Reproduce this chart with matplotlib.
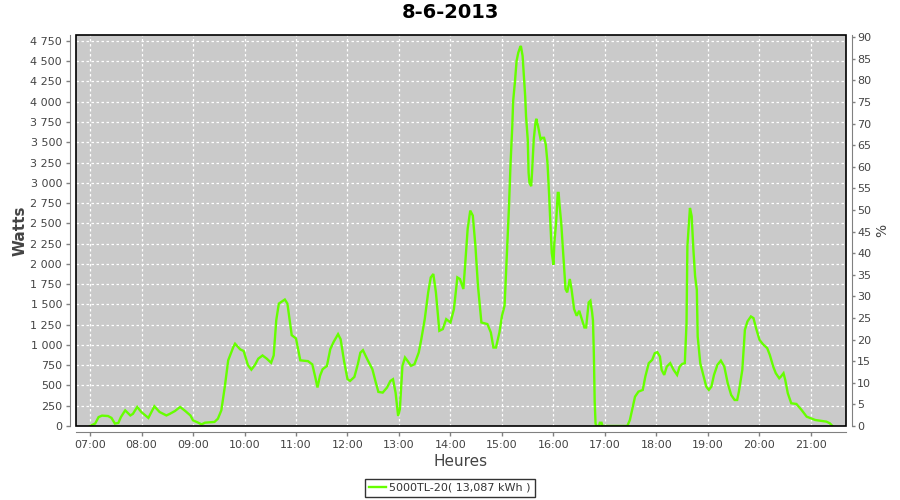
import matplotlib
matplotlib.use("Agg")
import matplotlib.pyplot as plt
from matplotlib.patches import Rectangle
from matplotlib.ticker import FixedLocator, FuncFormatter

plt.rcParams['font.family'] = ['DejaVu Sans']

title = "8-6-2013"
series_name = "5000TL-20( 13,087 kWh )"

times = [
    "07:00", "07:06", "07:10", "07:14", "07:21", "07:25", "07:29", "07:33", "07:36", "07:41",
    "07:47", "07:50", "07:55", "08:00", "08:08", "08:15", "08:21", "08:29", "08:33", "08:39",
    "08:45", "08:51", "08:57", "09:00", "09:06", "09:10", "09:14", "09:25", "09:29", "09:33",
    "09:37", "09:41", "09:47", "09:49", "09:55", "09:59", "10:04", "10:08", "10:12", "10:16",
    "10:21", "10:26", "10:31", "10:34", "10:37", "10:40", "10:47", "10:50", "10:55", "11:00",
    "11:05", "11:14", "11:19", "11:23", "11:25", "11:28", "11:31", "11:36", "11:40", "11:44",
    "11:49", "11:52", "11:56", "12:00", "12:03", "12:08", "12:12", "12:15", "12:18", "12:23",
    "12:29", "12:33", "12:36", "12:41", "12:46", "12:50", "12:53", "12:56", "12:59", "13:01",
    "13:04", "13:07", "13:10", "13:14", "13:18", "13:23", "13:26", "13:30", "13:34", "13:37",
    "13:40", "13:43", "13:47", "13:51", "13:55", "14:00", "14:04", "14:08", "14:11", "14:15",
    "14:17", "14:20", "14:23", "14:26", "14:29", "14:32", "14:36", "14:39", "14:43", "14:47",
    "14:50", "14:53", "14:57", "15:00", "15:03", "15:05", "15:07", "15:08", "15:10", "15:12",
    "15:13", "15:15", "15:17", "15:19", "15:21", "15:22", "15:24", "15:25", "15:27", "15:28",
    "15:30", "15:31", "15:32", "15:34", "15:35", "15:37", "15:39", "15:40", "15:42", "15:45",
    "15:47", "15:49", "15:51", "15:53", "15:55", "15:56", "15:58", "16:00", "16:01", "16:03",
    "16:05", "16:06", "16:07", "16:09", "16:10", "16:12", "16:14", "16:16", "16:19", "16:21",
    "16:24", "16:27", "16:30", "16:33", "16:36", "16:38", "16:41", "16:43", "16:45", "16:46",
    "16:47", "16:48", "16:49", "16:50", "16:53", "16:54", "16:56", "16:57", "17:26", "17:29",
    "17:32", "17:35", "17:39", "17:44", "17:47", "17:51", "17:55", "17:58", "18:01", "18:04",
    "18:06", "18:09", "18:12", "18:16", "18:20", "18:24", "18:27", "18:30", "18:33", "18:35",
    "18:36", "18:39", "18:41", "18:43", "18:45", "18:47", "18:48", "18:51", "18:55", "18:58",
    "19:01", "19:04", "19:07", "19:11", "19:15", "19:19", "19:23", "19:27", "19:31", "19:34",
    "19:36", "19:40", "19:43", "19:46", "19:50", "19:53", "19:56", "20:00", "20:04", "20:09",
    "20:12", "20:16", "20:19", "20:23", "20:25", "20:28", "20:30", "20:33", "20:37", "20:43",
    "20:49", "20:55", "21:00", "21:05", "21:10", "21:18", "21:22", "21:25",
]

watts = [
    0, 30, 110, 128, 123, 100, 30, 37, 110, 193,
    130, 150, 235, 170, 100, 243, 173, 130, 150, 185,
    235, 185, 130, 70, 41, 20, 41, 50, 90, 193,
    480, 810, 975, 1015, 945, 925, 750, 695, 750, 830,
    870, 830, 780, 870, 1305, 1510, 1560, 1510, 1120, 1080,
    810, 800, 760, 577, 475, 620, 700, 740, 950, 1040,
    1133, 1070, 800, 577, 556, 605, 760, 905, 935, 824,
    700, 535, 420, 412, 474, 556, 577, 412, 124, 206,
    742, 845, 803, 742, 762, 906, 1071, 1318, 1648, 1833,
    1875, 1648, 1174, 1195, 1318, 1277, 1442, 1833, 1813, 1690,
    1978, 2431, 2657, 2595, 2225, 1730, 1277, 1269, 1257, 1154,
    968, 968, 1154, 1360, 1483, 1950, 2400, 2670, 3246, 3700,
    4008, 4235, 4503, 4606, 4668, 4688, 4565, 4400, 4070, 3823,
    3535, 3123, 3000, 2958, 3123, 3535, 3740, 3790, 3700, 3535,
    3555, 3555, 3473, 3246, 2834, 2587, 2134, 1990, 2257, 2505,
    2875, 2875, 2731, 2505, 2340, 2010, 1690, 1648, 1813, 1690,
    1442, 1360, 1421, 1318, 1215, 1215, 1524, 1545, 1400, 1300,
    900, 300, 30, 0, 0, 40, 40, 0, 0, 74,
    218, 362, 424, 445, 610, 775, 816, 898, 910, 857,
    692, 630, 733, 775, 692, 630, 733, 766, 775, 1269,
    2217, 2690, 2587, 2175, 1846, 1681, 1104, 775, 610, 486,
    445, 486, 630, 754, 807, 733, 527, 383, 321, 321,
    424, 692, 1186, 1290, 1351, 1331, 1207, 1063, 1009, 960,
    878, 733, 651, 589, 610, 651, 569, 404, 280, 272,
    198, 115, 95, 74, 66, 54, 33, 0,
]

hour_ticks = list(range(7, 22))
watt_ticks = list(range(0, 4751, 250))
pct_ticks = list(range(0, 91, 5))


def to_hours(s):
    h, m = s.split(":")
    return int(h) + int(m) / 60.0


x = [to_hours(t) for t in times]

fig = plt.figure(figsize=(9, 5), dpi=100)
fig.patch.set_facecolor("white")
ax = fig.add_axes([76 / 900, 1 - 426 / 500, (846 - 76) / 900, (426 - 35) / 500])
ax.set_facecolor("#cacaca")

line, = ax.plot(x, watts, color="#66ff00", lw=1.7, solid_joinstyle="miter")

ax.set_xlim(6.728, 21.68)
ax.set_ylim(0, 4823)

ax.xaxis.set_major_locator(FixedLocator(hour_ticks))
ax.xaxis.set_major_formatter(FuncFormatter(lambda v, p: f"{int(round(v)):02d}:00"))
ax.yaxis.set_major_locator(FixedLocator(watt_ticks))
ax.yaxis.set_major_formatter(FuncFormatter(lambda v, p: f"{int(v):,}".replace(",", " ")))

ax.grid(True, color="white", lw=0.9, linestyle=(0, (2, 2)))
ax.set_axisbelow(True)

gray = "#808080"
for side in ["top", "right"]:
    ax.spines[side].set_visible(False)
for side in ["left", "bottom"]:
    ax.spines[side].set_color(gray)
    ax.spines[side].set_position(("outward", 4))
ax.tick_params(axis="both", colors=gray, length=3, width=1, labelsize=8,
               labelcolor="#444444", direction="out", pad=3)

ax.add_patch(Rectangle((0, 0), 1, 1, transform=ax.transAxes, fill=False,
                       ec="black", lw=1.2, clip_on=False, zorder=5))

ax2 = ax.twinx()
ax2.set_ylim(0, 90.5)
ax2.yaxis.set_major_locator(FixedLocator(pct_ticks))
for side in ["top", "left", "bottom"]:
    ax2.spines[side].set_visible(False)
ax2.spines["right"].set_color(gray)
ax2.spines["right"].set_position(("outward", 4))
ax2.tick_params(axis="y", colors=gray, length=2, width=1, labelsize=8,
                labelcolor="#444444", direction="out", pad=2)
ax2.set_ylabel("%", fontsize=10, color="#444444")
ax2.yaxis.set_label_coords((875 - 76) / 770, 0.5)

ax.set_xlabel("Heures", fontsize=11, color="#444444")
ax.xaxis.set_label_coords(0.5, (426 - 454) / 391)
ax.set_ylabel("Watts", fontsize=11, fontweight="bold", color="#444444")
ax.yaxis.set_label_coords((28 - 76) / 770, 0.5)

fig.text(0.5, 1 - 13 / 500, title, ha="center", va="center", fontsize=14, fontweight="bold")

leg = fig.legend([line], [series_name], loc="center", bbox_to_anchor=(0.5, 1 - 488 / 500),
                 fontsize=8, frameon=True, fancybox=False, handlelength=1.5,
                 handletextpad=0.3, borderpad=0.35, borderaxespad=0)
leg.get_frame().set_edgecolor("black")
leg.get_frame().set_linewidth(1.0)
for t in leg.get_texts():
    t.set_color("#333333")

fig.savefig("out.png", dpi=100)
